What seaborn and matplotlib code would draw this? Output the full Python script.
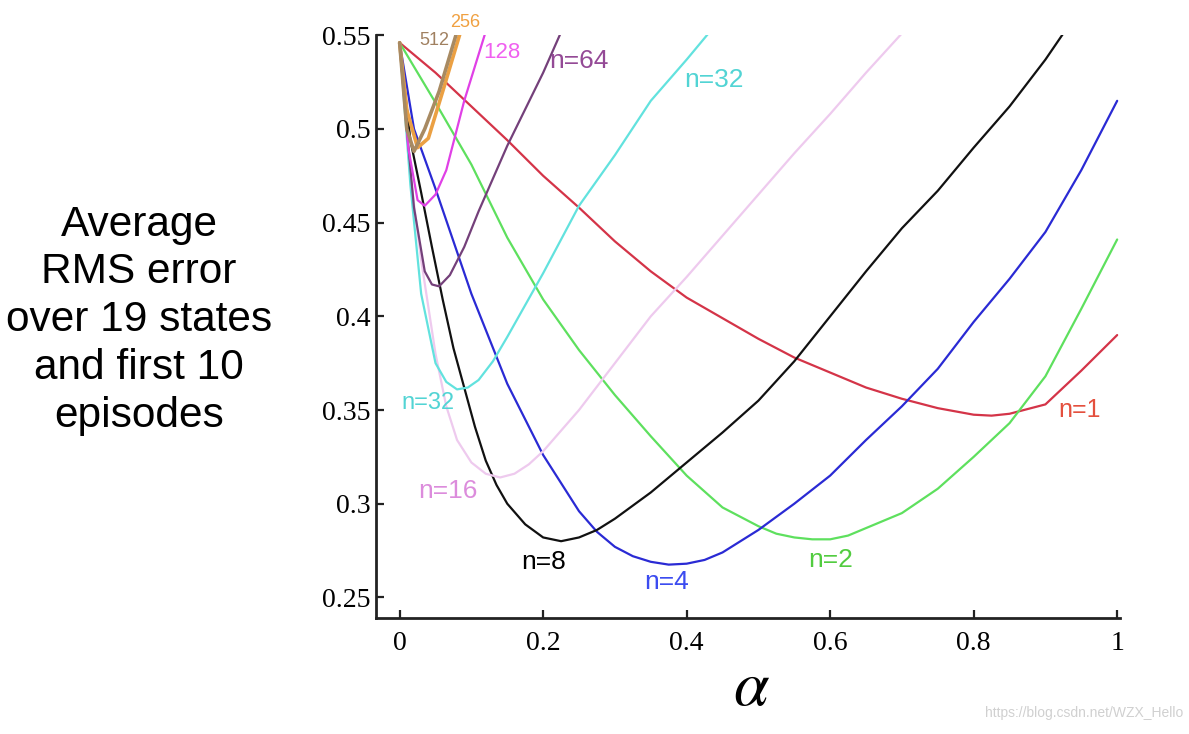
import numpy as np
import pandas as pd
import seaborn as sns
import matplotlib.pyplot as plt

# alpha values and RMS error per n
n1_x = [0, 0.05, 0.1, 0.15, 0.2, 0.25, 0.3, 0.35, 0.4, 0.45, 0.5, 0.55, 0.6, 0.65, 0.7, 0.75, 0.8, 0.825, 0.85, 0.9, 0.95, 1.0]
n1_y = [0.546, 0.530, 0.512, 0.494, 0.475, 0.458, 0.440, 0.424, 0.410, 0.399, 0.388, 0.378, 0.370, 0.362, 0.356, 0.351, 0.3475, 0.347, 0.348, 0.353, 0.371, 0.390]

n2_x = [0, 0.05, 0.1, 0.15, 0.2, 0.25, 0.3, 0.35, 0.4, 0.45, 0.5, 0.525, 0.55, 0.575, 0.6, 0.625, 0.65, 0.7, 0.75, 0.8, 0.85, 0.9, 0.95, 1.0]
n2_y = [0.546, 0.514, 0.481, 0.442, 0.409, 0.382, 0.358, 0.336, 0.315, 0.298, 0.288, 0.284, 0.282, 0.281, 0.281, 0.283, 0.287, 0.295, 0.308, 0.325, 0.343, 0.368, 0.404, 0.441]

n4_x = [0, 0.02, 0.05, 0.1, 0.15, 0.2, 0.25, 0.275, 0.3, 0.325, 0.35, 0.375, 0.4, 0.425, 0.45, 0.5, 0.55, 0.6, 0.65, 0.7, 0.75, 0.8, 0.85, 0.9, 0.95, 1.0]
n4_y = [0.546, 0.500, 0.468, 0.412, 0.364, 0.326, 0.296, 0.285, 0.277, 0.272, 0.269, 0.2675, 0.268, 0.270, 0.274, 0.286, 0.300, 0.315, 0.334, 0.352, 0.372, 0.397, 0.420, 0.445, 0.478, 0.515]

n8_x = [0, 0.015, 0.03, 0.045, 0.06, 0.075, 0.09, 0.105, 0.12, 0.135, 0.15, 0.175, 0.2, 0.225, 0.25, 0.275, 0.3, 0.35, 0.4, 0.45, 0.5, 0.55, 0.6, 0.65, 0.7, 0.75, 0.8, 0.85, 0.9, 0.95]
n8_y = [0.546, 0.494, 0.466, 0.437, 0.409, 0.383, 0.362, 0.341, 0.323, 0.310, 0.300, 0.289, 0.282, 0.280, 0.282, 0.286, 0.292, 0.306, 0.322, 0.338, 0.355, 0.376, 0.400, 0.424, 0.447, 0.467, 0.490, 0.512, 0.537, 0.565]

n16_x = [0, 0.015, 0.03, 0.05, 0.065, 0.08, 0.1, 0.12, 0.14, 0.16, 0.18, 0.2, 0.225, 0.25, 0.3, 0.35, 0.4, 0.45, 0.5, 0.55, 0.6, 0.65, 0.7, 0.75]
n16_y = [0.546, 0.475, 0.430, 0.380, 0.352, 0.334, 0.322, 0.316, 0.314, 0.316, 0.321, 0.328, 0.339, 0.350, 0.375, 0.400, 0.421, 0.443, 0.465, 0.487, 0.508, 0.530, 0.551, 0.572]

n32_x = [0, 0.015, 0.03, 0.05, 0.065, 0.08, 0.095, 0.11, 0.13, 0.15, 0.2, 0.25, 0.3, 0.35, 0.4, 0.45]
n32_y = [0.546, 0.470, 0.412, 0.375, 0.365, 0.361, 0.362, 0.366, 0.376, 0.389, 0.423, 0.459, 0.486, 0.515, 0.537, 0.560]

n64_x = [0, 0.01, 0.02, 0.035, 0.045, 0.055, 0.07, 0.09, 0.11, 0.15, 0.2, 0.23]
n64_y = [0.546, 0.500, 0.458, 0.424, 0.417, 0.416, 0.422, 0.437, 0.456, 0.491, 0.530, 0.556]

n128_x = [0, 0.012, 0.025, 0.035, 0.05, 0.065, 0.09, 0.12, 0.13]
n128_y = [0.546, 0.490, 0.462, 0.459, 0.465, 0.478, 0.515, 0.552, 0.565]

n256_x = [0, 0.01, 0.025, 0.04, 0.06, 0.085, 0.095]
n256_y = [0.546, 0.510, 0.490, 0.495, 0.520, 0.552, 0.566]

n512_x = [0, 0.01, 0.02, 0.035, 0.055, 0.08, 0.09]
n512_y = [0.546, 0.500, 0.488, 0.500, 0.520, 0.552, 0.566]

series = {
    "n=1": (n1_x, n1_y), "n=2": (n2_x, n2_y), "n=4": (n4_x, n4_y),
    "n=8": (n8_x, n8_y), "n=16": (n16_x, n16_y), "n=32": (n32_x, n32_y),
    "n=64": (n64_x, n64_y), "n=128": (n128_x, n128_y),
    "n=256": (n256_x, n256_y), "n=512": (n512_x, n512_y),
}
line_colors = {
    "n=1": "#d43448", "n=2": "#5ee05e", "n=4": "#2a2ad4", "n=8": "#111111",
    "n=16": "#eecaee", "n=32": "#62e2de", "n=64": "#74407a",
    "n=128": "#e040e6", "n=256": "#eba043", "n=512": "#a88a62",
}

rows = []
for name, (xs, ys) in series.items():
    for x, y in zip(xs, ys):
        rows.append({"n": name, "alpha": x, "rms": y})
df = pd.DataFrame(rows)

sns.set_style("ticks")
plt.rcParams["font.family"] = ["Liberation Serif", "DejaVu Serif"]
plt.rcParams["mathtext.fontset"] = "stix"
plt.rcParams["text.color"] = "black"

fig = plt.figure(figsize=(11.89, 7.34), dpi=100)
ax = fig.add_axes([0.3162, 0.158, 0.6258, 0.794])

sns.lineplot(data=df, x="alpha", y="rms", hue="n", palette=line_colors,
             estimator=None, sort=False, linewidth=1.6, legend=False, ax=ax)
# the 256 / 512 curves are drawn a bit heavier
for line, name in zip(ax.get_lines(), series.keys()):
    if name in ("n=256", "n=512"):
        line.set_linewidth(2.6)

# curve labels
labels = [
    ("256", 0.092, 0.557, "#f0a040", 13),
    ("512", 0.049, 0.547, "#a08060", 13),
    ("128", 0.143, 0.541, "#f060f0", 16),
    ("n=64", 0.25, 0.536, "#944a96", 19),
    ("n=32", 0.4375, 0.526, "#52d4d4", 19),
    ("n=32", 0.039, 0.354, "#52d4d4", 17),
    ("n=16", 0.067, 0.307, "#dc8cdc", 19),
    ("n=8", 0.201, 0.269, "#000000", 19),
    ("n=4", 0.372, 0.258, "#3c4cf0", 19),
    ("n=2", 0.600, 0.270, "#52cc40", 19),
    ("n=1", 0.947, 0.350, "#e4503e", 18),
]
for txt, x, y, c, fs in labels:
    ax.text(x, y, txt, color=c, fontsize=fs, ha="center", va="center",
            family=["Liberation Sans", "DejaVu Sans"], clip_on=False)

ax.set_xlim(-0.033, 1.004)
ax.set_ylim(0.239, 0.55)
ax.set_xticks([0, 0.2, 0.4, 0.6, 0.8, 1])
ax.set_xticklabels(["0", "0.2", "0.4", "0.6", "0.8", "1"])
ax.set_yticks([0.25, 0.3, 0.35, 0.4, 0.45, 0.5, 0.55])
ax.set_yticklabels(["0.25", "0.3", "0.35", "0.4", "0.45", "0.5", "0.55"])
ax.tick_params(axis="both", direction="in", length=6, width=1.6,
               labelsize=20, color="#222222", labelcolor="black")
ax.tick_params(axis="x", pad=9)
ax.tick_params(axis="y", pad=4)
sns.despine(ax=ax)
for side in ["left", "bottom"]:
    ax.spines[side].set_linewidth(2)
    ax.spines[side].set_color("#222222")
ax.set_xlabel("")
ax.set_ylabel("")

fig.text(0.632, 0.06, r"$\alpha$", fontsize=46, ha="center", va="center",
         color="black")
fig.text(0.117, 0.564, "Average\nRMS error\nover 19 states\nand first 10\nepisodes",
         fontsize=30.5, ha="center", va="center", linespacing=1.25,
         color="black", family=["Liberation Sans", "DejaVu Sans"])
fig.text(0.995, 0.028, "https://blog.csdn.net/WZX_Hello", fontsize=10,
         color="#d0d0d0", ha="right", va="center",
         family=["Liberation Sans", "DejaVu Sans"])

fig.savefig("out.png", dpi=100, facecolor="white")
